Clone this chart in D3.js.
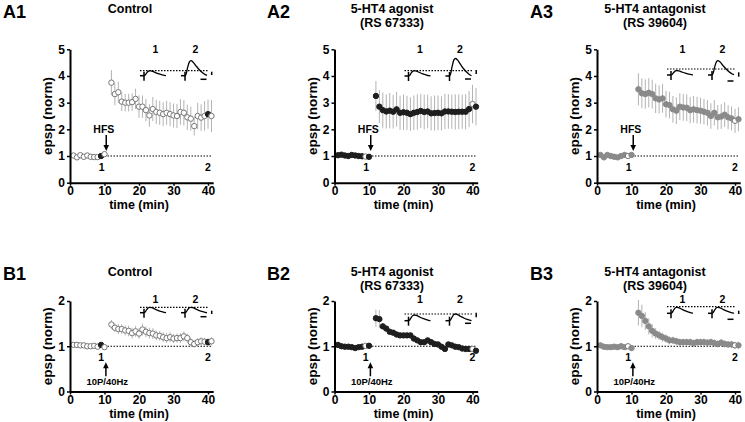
<!doctype html>
<html lang="en">
<head>
<meta charset="utf-8">
<title>5-HT4 and potentiation</title>
<style>
body { margin: 0; background: #fff; }
svg { display: block; font-family: "Liberation Sans", Arial, sans-serif; font-weight: bold; }
.axis path { stroke: #000; stroke-width: 2; }
.axis line { stroke: #000; stroke-width: 1.5; }
.axis text { font-family: "Liberation Sans", Arial, sans-serif; font-size: 12px; font-weight: bold; fill: #000; }
.err { stroke: #b3b3b3; stroke-width: 1; }
.dots { stroke: #000; stroke-width: 1.2; stroke-dasharray: 1.5,1.5; }
.trace { fill: none; stroke: #000; stroke-width: 1.3; }
.bar { stroke: #000; stroke-width: 1.5; }
</style>
</head>
<body>
<script src="https://cdnjs.cloudflare.com/ajax/libs/d3/7.8.5/d3.min.js"></script>
<script>
// sampling times (min); no sample at 11 (stimulation)
var times = [1, 2, 3, 4, 5, 6, 7, 8, 9, 10,
  12, 13, 14, 15, 16, 17, 18, 19, 20, 21, 22, 23, 24, 25, 26,
  27, 28, 29, 30, 31, 32, 33, 34, 35, 36, 37, 38, 39, 40, 41];
var traceTimes = [9, 40];

// A row: HFS
var a1Values = [1.02, 0.95, 1.03, 0.97, 1.02, 0.97, 0.96, 0.96, 1.0, 1.07,
  3.75, 3.32, 3.39, 3.04, 3.0, 3.0, 3.02, 3.14, 2.85, 2.85, 2.72, 2.52, 2.76, 2.65, 2.62,
  2.57, 2.62, 2.57, 2.52, 2.5, 2.65, 2.62, 2.45, 2.4, 2.12, 2.5, 2.44, 2.5, 2.57, 2.5];
var a1Sem = [0.04, 0.04, 0.04, 0.04, 0.04, 0.04, 0.04, 0.04, 0.04, 0.04,
  0.47, 0.42, 0.4, 0.35, 0.33, 0.33, 0.33, 0.38, 0.42, 0.42, 0.42, 0.42, 0.45, 0.45, 0.45,
  0.45, 0.45, 0.45, 0.45, 0.45, 0.48, 0.48, 0.48, 0.45, 0.35, 0.5, 0.5, 0.55, 0.55, 0.6];

var a2Values = [1.03, 1.05, 1.02, 1.0, 1.04, 1.02, 1.0, 0.99, 0.98, 0.97,
  3.25, 2.85, 2.72, 2.67, 2.7, 2.66, 2.75, 2.62, 2.64, 2.62, 2.57, 2.62, 2.65, 2.69, 2.65,
  2.67, 2.6, 2.61, 2.62, 2.6, 2.67, 2.67, 2.66, 2.65, 2.66, 2.66, 2.66, 2.76, 2.95, 2.85];
var a2Sem = [0.04, 0.04, 0.04, 0.04, 0.04, 0.04, 0.04, 0.04, 0.04, 0.04,
  0.56, 0.62, 0.66, 0.64, 0.66, 0.63, 0.65, 0.64, 0.66, 0.64, 0.63, 0.65, 0.66, 0.64, 0.65,
  0.63, 0.64, 0.66, 0.65, 0.64, 0.66, 0.65, 0.64, 0.66, 0.65, 0.64, 0.66, 0.68, 0.72, 0.7];

var a3Values = [1.04, 0.95, 1.04, 1.0, 0.97, 0.95, 1.0, 1.04, 1.0, 1.04,
  3.5, 3.35, 3.32, 3.37, 3.32, 3.16, 3.12, 3.16, 2.94, 2.91, 2.75, 2.7, 2.85, 2.82, 2.81,
  2.72, 2.75, 2.72, 2.7, 2.66, 2.62, 2.5, 2.62, 2.45, 2.48, 2.55, 2.45, 2.41, 2.32, 2.38];
var a3Sem = [0.04, 0.04, 0.04, 0.04, 0.04, 0.04, 0.04, 0.04, 0.04, 0.04,
  0.6, 0.56, 0.55, 0.55, 0.54, 0.55, 0.53, 0.54, 0.5, 0.5, 0.5, 0.5, 0.5, 0.5, 0.5,
  0.49, 0.5, 0.5, 0.49, 0.48, 0.48, 0.48, 0.48, 0.46, 0.46, 0.46, 0.45, 0.45, 0.45, 0.45];

// B row: 10 pulses at 40 Hz
var b1Values = [1.03, 1.03, 1.02, 1.02, 1.0, 1.0, 1.01, 0.99, 1.03, 0.98,
  1.48, 1.41, 1.38, 1.38, 1.35, 1.34, 1.29, 1.33, 1.28, 1.37, 1.32, 1.29, 1.28, 1.24, 1.23,
  1.2, 1.18, 1.2, 1.17, 1.18, 1.18, 1.22, 1.18, 1.09, 1.05, 1.09, 1.11, 1.1, 1.09, 1.11];
var b1Sem = [0.02, 0.02, 0.02, 0.02, 0.02, 0.02, 0.02, 0.02, 0.02, 0.02,
  0.1, 0.1, 0.11, 0.11, 0.11, 0.12, 0.12, 0.12, 0.12, 0.13, 0.12, 0.12, 0.12, 0.11, 0.11,
  0.11, 0.11, 0.11, 0.1, 0.1, 0.11, 0.11, 0.1, 0.09, 0.08, 0.09, 0.09, 0.09, 0.09, 0.09];

var b2Values = [1.03, 1.0, 0.99, 0.99, 0.98, 0.96, 0.98, 0.99, 1.01, 1.01,
  1.62, 1.6, 1.44, 1.39, 1.32, 1.3, 1.26, 1.24, 1.24, 1.24, 1.24, 1.17, 1.13, 1.09, 1.09,
  1.13, 1.09, 1.05, 1.04, 0.99, 0.94, 1.04, 1.02, 0.99, 0.98, 0.95, 0.94, 0.94, 0.94, 0.9];
var b2Sem = [0.02, 0.02, 0.02, 0.02, 0.02, 0.02, 0.02, 0.02, 0.02, 0.02,
  0.19, 0.2, 0.06, 0.04, 0.03, 0.03, 0.03, 0.03, 0.03, 0.03, 0.03, 0.03, 0.03, 0.03, 0.03,
  0.03, 0.03, 0.03, 0.03, 0.03, 0.03, 0.03, 0.03, 0.03, 0.03, 0.03, 0.03, 0.03, 0.03, 0.03];

var b3Values = [1.02, 0.99, 0.98, 0.98, 0.99, 0.98, 1.0, 0.98, 1.0, 0.96,
  1.74, 1.67, 1.56, 1.44, 1.34, 1.28, 1.24, 1.2, 1.17, 1.13, 1.13, 1.11, 1.09, 1.09, 1.09,
  1.09, 1.07, 1.09, 1.09, 1.09, 1.08, 1.09, 1.07, 1.05, 1.08, 1.05, 1.04, 1.04, 1.02, 1.02];
var b3Sem = [0.02, 0.02, 0.02, 0.02, 0.02, 0.02, 0.02, 0.02, 0.02, 0.02,
  0.28, 0.25, 0.2, 0.18, 0.15, 0.12, 0.1, 0.1, 0.09, 0.09, 0.08, 0.08, 0.08, 0.08, 0.08,
  0.08, 0.08, 0.08, 0.08, 0.08, 0.08, 0.08, 0.08, 0.08, 0.08, 0.08, 0.08, 0.08, 0.08, 0.08];

// example epsp shape (fraction of trace width, fraction of peak)
var epspShape = [[0, 0], [0.05, 0.12], [0.12, 0.55], [0.2, 0.92], [0.27, 1], [0.36, 0.92],
  [0.5, 0.66], [0.65, 0.4], [0.8, 0.2], [0.92, 0.07], [1, 0.02]];

var yTicksA = [0, 1, 2, 3, 4, 5];
var yTicksB = [0, 1, 2];
var xTicks = [0, 10, 20, 30, 40];

// layout
var cols = [70, 334.5, 597];
var titleX = [130, 392, 655];
var labelX = [3, 267, 530];
var rows = [
  {y0: 182.7, yTop: 49.3, max: 5, ticks: yTicksA, titleY: 12.8, titleGap: 14.6, labelY: 18.3, xTitleDy: 26.5, insetDy: 3.7},
  {y0: 391.5, yTop: 301, max: 2, ticks: yTicksB, titleY: 275.5, titleGap: 14, labelY: 280, xTitleDy: 26.5, insetDy: 1.5}
];

var fills = {open: "#fff", black: "#1e1e1e", grey: "#8a8a8a"};
var strokes = {open: "#777", black: "#1e1e1e", grey: "#8a8a8a"};

var panels = [
  {label: "A1", title: ["Control"], col: 0, row: 0, values: a1Values, sem: a1Sem, style: "open", mark: "black",
    inset: {ref: 21.4, base: 26.4, amp: [5, 15], vbar: [22.4, 25.7], hbar: 30}},
  {label: "A2", title: ["5-HT4 agonist", "(RS 67333)"], col: 1, row: 0, values: a2Values, sem: a2Sem, style: "black", mark: "open",
    inset: {ref: 21.4, base: 26.7, amp: [5.3, 17.5], vbar: [20.7, 24.7], hbar: 29.7}},
  {label: "A3", title: ["5-HT4 antagonist", "(RS 39604)"], col: 2, row: 0, values: a3Values, sem: a3Sem, style: "grey", mark: "open",
    inset: {ref: 19.7, base: 25.7, amp: [4.5, 14.3], vbar: [23, 27.4], hbar: 31.7}},
  {label: "B1", title: ["Control"], col: 0, row: 1, values: b1Values, sem: b1Sem, style: "open", mark: "black",
    inset: {ref: 6.3, base: 11.7, amp: [5.4, 5.4], vbar: [9.7, 13], hbar: 15.7}},
  {label: "B2", title: ["5-HT4 agonist", "(RS 67333)"], col: 1, row: 1, values: b2Values, sem: b2Sem, style: "black", mark: "open",
    inset: {ref: 13, base: 19.7, amp: [5.7, 6.7], vbar: [11.7, 16.3], hbar: 22.3}},
  {label: "B3", title: ["5-HT4 antagonist", "(RS 39604)"], col: 2, row: 1, values: b3Values, sem: b3Sem, style: "grey", mark: "open",
    inset: {ref: 5.7, base: 12.3, amp: [6, 6], vbar: [9.7, 13], hbar: 18.3}}
];

var svg = d3.select("body").append("svg")
    .attr("width", 745)
    .attr("height", 422);

panels.forEach(function(p) {
  var ax = cols[p.col], r = rows[p.row];
  var x = d3.scaleLinear().domain([0, 41.5]).range([ax, ax + 143.2]);
  var y = d3.scaleLinear().domain([0, r.max]).range([r.y0, r.yTop]);
  var g = svg.append("g");

  g.append("text")
      .attr("x", labelX[p.col]).attr("y", r.labelY)
      .style("font-size", "18px")
      .text(p.label);
  p.title.forEach(function(t, i) {
    g.append("text")
        .attr("x", titleX[p.col]).attr("y", r.titleY + i * r.titleGap)
        .attr("text-anchor", "middle")
        .style("font-size", "12.5px")
        .text(t);
  });

  // dotted baseline at 1
  g.append("line").attr("class", "dots")
      .attr("x1", x(10)).attr("x2", x(41.3))
      .attr("y1", y(1)).attr("y2", y(1));

  // stimulation marker
  if (p.row === 0) {
    g.append("text").attr("x", x(9.8)).attr("y", y(1) - 23)
        .attr("text-anchor", "middle").style("font-size", "10.5px").text("HFS");
    g.append("line").attr("class", "bar")
        .attr("x1", x(10.5)).attr("x2", x(10.5))
        .attr("y1", y(1) - 21).attr("y2", y(1) - 9);
    g.append("path")
        .attr("d", "M" + (x(10.5) - 2.8) + "," + (y(1) - 11) + "L" + (x(10.5) + 2.8) + "," + (y(1) - 11) +
          "L" + x(10.5) + "," + (y(1) - 5) + "Z");
    g.append("text").attr("x", x(9.2)).attr("y", y(1) + 14.8)
        .attr("text-anchor", "middle").style("font-size", "10.5px").text("1");
  } else {
    g.append("text").attr("x", x(9)).attr("y", y(1) + 15)
        .attr("text-anchor", "middle").style("font-size", "10.5px").text("1");
    g.append("line").attr("class", "bar")
        .attr("x1", x(10.4)).attr("x2", x(10.4))
        .attr("y1", y(1) + 20).attr("y2", y(1) + 30);
    g.append("path")
        .attr("d", "M" + (x(10.4) - 2.8) + "," + (y(1) + 22) + "L" + (x(10.4) + 2.8) + "," + (y(1) + 22) +
          "L" + x(10.4) + "," + (y(1) + 16) + "Z");
    g.append("text").attr("x", x(10.8)).attr("y", y(1) + 38.5)
        .attr("text-anchor", "middle").style("font-size", "9.5px").text("10P/40Hz");
  }
  g.append("text").attr("x", x(40)).attr("y", y(1) + 14.8)
      .attr("text-anchor", "middle").style("font-size", "10.5px").text("2");

  var data = times.map(function(t, i) { return {t: t, v: p.values[i], e: p.sem[i]}; });

  g.selectAll(".err").data(data).enter().append("line")
      .attr("class", "err")
      .attr("x1", function(d) { return x(d.t); })
      .attr("x2", function(d) { return x(d.t); })
      .attr("y1", function(d) { return y(d.v - d.e); })
      .attr("y2", function(d) { return y(d.v + d.e); });

  g.selectAll(".pt").data(data).enter().append("circle")
      .attr("class", "pt")
      .attr("cx", function(d) { return x(d.t); })
      .attr("cy", function(d) { return y(d.v); })
      .attr("r", 2.7)
      .attr("fill", function(d) { return fills[traceTimes.indexOf(d.t) >= 0 ? p.mark : p.style]; })
      .attr("stroke", function(d) { return strokes[traceTimes.indexOf(d.t) >= 0 ? p.mark : p.style]; })
      .attr("stroke-width", 1);

  drawInset(g, ax, r.yTop, r.insetDy, p.inset);

  g.append("g").attr("class", "axis")
      .attr("transform", "translate(" + ax + ",0)")
      .call(d3.axisLeft(y).tickValues(r.ticks).tickFormat(d3.format("d"))
        .tickSize(3).tickSizeOuter(0).tickPadding(2));
  g.append("g").attr("class", "axis")
      .attr("transform", "translate(0," + r.y0 + ")")
      .call(d3.axisBottom(x).tickValues(xTicks).tickSize(3).tickSizeOuter(0).tickPadding(1));

  g.append("text")
      .attr("transform", "translate(" + (ax - 18) + "," + ((r.y0 + r.yTop) / 2) + ") rotate(-90)")
      .attr("text-anchor", "middle")
      .style("font-size", "13.5px")
      .text("epsp (norm)");
  g.append("text")
      .attr("x", x(20)).attr("y", r.y0 + r.xTitleDy)
      .attr("text-anchor", "middle")
      .style("font-size", "12.5px")
      .text("time (min)");
});

function drawInset(g, ax, top, labelDy, ins) {
  var artPos = [74, 115], labelPos = [85.5, 125.5];
  g.append("line").attr("class", "dots")
      .attr("x1", ax + 70).attr("x2", ax + 138)
      .attr("y1", top + ins.ref).attr("y2", top + ins.ref);
  [0, 1].forEach(function(k) {
    var artX = ax + artPos[k], base = top + ins.base;
    g.append("text").attr("x", ax + labelPos[k]).attr("y", top + labelDy)
        .attr("text-anchor", "middle").style("font-size", "10.5px").text(k + 1);
    g.append("line").attr("class", "bar")
        .attr("x1", artX - 4).attr("x2", artX).attr("y1", base).attr("y2", base);
    g.append("line").attr("class", "bar")
        .attr("x1", artX).attr("x2", artX).attr("y1", base - 4).attr("y2", base + 5);
    var tx = d3.scaleLinear().domain([0, 1]).range([artX, artX + 22]);
    var ty = d3.scaleLinear().domain([0, 1]).range([base, base - ins.amp[k]]);
    g.append("path").attr("class", "trace")
        .datum(epspShape)
        .attr("d", d3.line()
          .x(function(d) { return tx(d[0]); })
          .y(function(d) { return ty(d[1]); })
          .curve(d3.curveMonotoneX));
  });
  g.append("line").attr("class", "bar")
      .attr("x1", ax + 141.7).attr("x2", ax + 141.7)
      .attr("y1", top + ins.vbar[0]).attr("y2", top + ins.vbar[1]);
  g.append("line").attr("class", "bar")
      .attr("x1", ax + 130.5).attr("x2", ax + 136.5)
      .attr("y1", top + ins.hbar).attr("y2", top + ins.hbar);
}
</script>
</body>
</html>
